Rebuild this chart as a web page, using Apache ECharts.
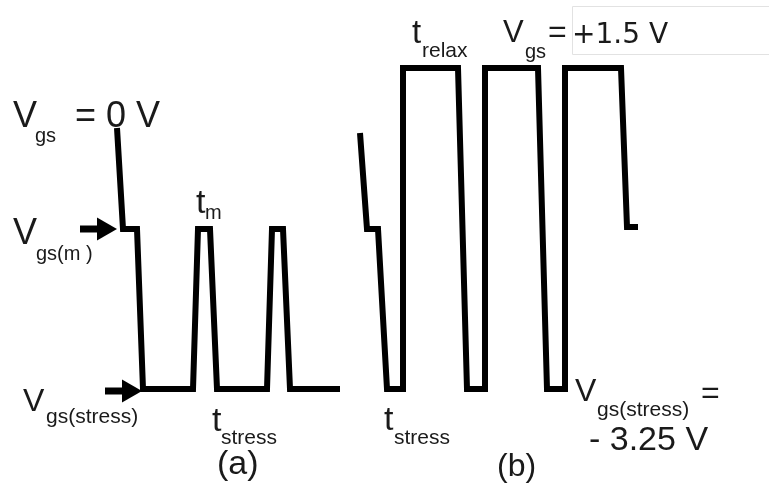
<!DOCTYPE html>
<html>
<head>
<meta charset="utf-8">
<script src="https://cdn.jsdelivr.net/npm/echarts@6/dist/echarts.min.js"></script>
<style>
    html, body { margin: 0; padding: 0; background: #fff; }
    #chart { width: 769px; height: 491px; }
</style>
</head>
<body>
<div id="chart"></div>
<script>
// time axis (a.u.) and gate level (a.u., 0 = Vgs(stress))
var aTime  = [117, 123, 137, 143, 193, 198, 210, 217, 267, 272, 283, 290, 340];
var aLevel = [261, 160, 160, 0,   0,   160, 160, 0,   0,   160, 160, 0,   0];

var bTime  = [360, 367, 378, 387, 403, 403, 458, 467, 485, 485, 538, 547, 565, 565, 621, 627, 638];
var bLevel = [256, 160, 160, 0,   0,   321, 321, 0,   0,   321, 321, 0,   0,   321, 321, 162, 162];

// marker arrows: start of shaft, centre of head, level
var arrowMTime = [80, 107];
var arrowMLevel = 160;
var arrowStressTime = [105, 132];
var arrowStressLevel = -2;

var levelMin = 0, levelMax = 321;

function pairs(xs, ys) {
    var out = [];
    for (var i = 0; i < xs.length; i++) {
        out.push([xs[i], ys[i]]);
    }
    return out;
}

function arrow(xs, lvl) {
    return {
        type: 'line',
        data: [
            {value: [xs[0], lvl], symbol: 'none'},
            {value: [xs[1], lvl], symbol: 'triangle', symbolSize: [23, 20], symbolRotate: -90}
        ],
        showSymbol: true,
        clip: false,
        silent: true,
        itemStyle: {color: '#000'},
        lineStyle: {color: '#000', width: 7, cap: 'butt'}
    };
}

function wave(data) {
    return {
        type: 'line',
        data: data,
        showSymbol: false,
        clip: false,
        silent: true,
        lineStyle: {color: '#000', width: 6, join: 'miter', cap: 'butt'}
    };
}

// text placed by baseline (zrender draws with a 'middle' baseline)
var ink = '#1a1a1a';
var sans = '"Liberation Sans", Arial, sans-serif';
function txt(x, base, s, size, font) {
    return {
        type: 'text',
        silent: true,
        z: 10,
        style: {
            x: x,
            y: base - 0.3465 * size,
            text: s,
            fill: ink,
            font: size + 'px ' + (font || sans),
            verticalAlign: 'middle',
            align: 'left'
        }
    };
}

var labels = [
    // (a)
    txt(13, 130, 'V', 36), txt(35, 143, 'gs', 20), txt(75, 130, '= 0 V', 36),
    txt(196, 215, 't', 34), txt(205, 220, 'm', 20),
    txt(13, 247, 'V', 36), txt(36, 261, 'gs(m )', 20),
    txt(23, 413, 'V', 32), txt(46, 424, 'gs(stress)', 21),
    txt(212, 433, 't', 34), txt(221, 445, 'stress', 21),
    txt(217, 476, '(a)', 34),
    // (b)
    txt(412, 45, 't', 33), txt(422, 58, 'relax', 21),
    txt(503, 44, 'V', 31), txt(525, 59, 'gs', 20), txt(548, 44, '=', 32),
    txt(572, 45, '+1.5 V', 28, '"DejaVu Sans", sans-serif'),
    txt(384, 432, 't', 34), txt(394, 445, 'stress', 21),
    txt(575, 403, 'V', 32), txt(597, 417, 'gs(stress)', 21), txt(701, 405, '=', 32),
    txt(589, 452, '- 3.25 V', 34),
    txt(497, 478, '(b)', 32)
];

var myChart = echarts.init(document.getElementById('chart'), null, {renderer: 'canvas'});
var option = {
    backgroundColor: '#fff',
    animation: false,
    grid: {left: 0, right: 0, top: 68, bottom: 102, containLabel: false},
    xAxis: {type: 'value', min: 0, max: 769, show: false},
    yAxis: {type: 'value', min: levelMin, max: levelMax, show: false},
    graphic: [{
        type: 'rect',
        silent: true,
        z: 5,
        shape: {x: 572.5, y: 6.5, width: 220, height: 48},
        style: {fill: '#fff', stroke: '#e2e2e2', lineWidth: 1}
    }].concat(labels),
    series: [
        wave(pairs(aTime, aLevel)),
        wave(pairs(bTime, bLevel)),
        arrow(arrowMTime, arrowMLevel),
        arrow(arrowStressTime, arrowStressLevel)
    ]
};
myChart.setOption(option);
</script>
</body>
</html>
